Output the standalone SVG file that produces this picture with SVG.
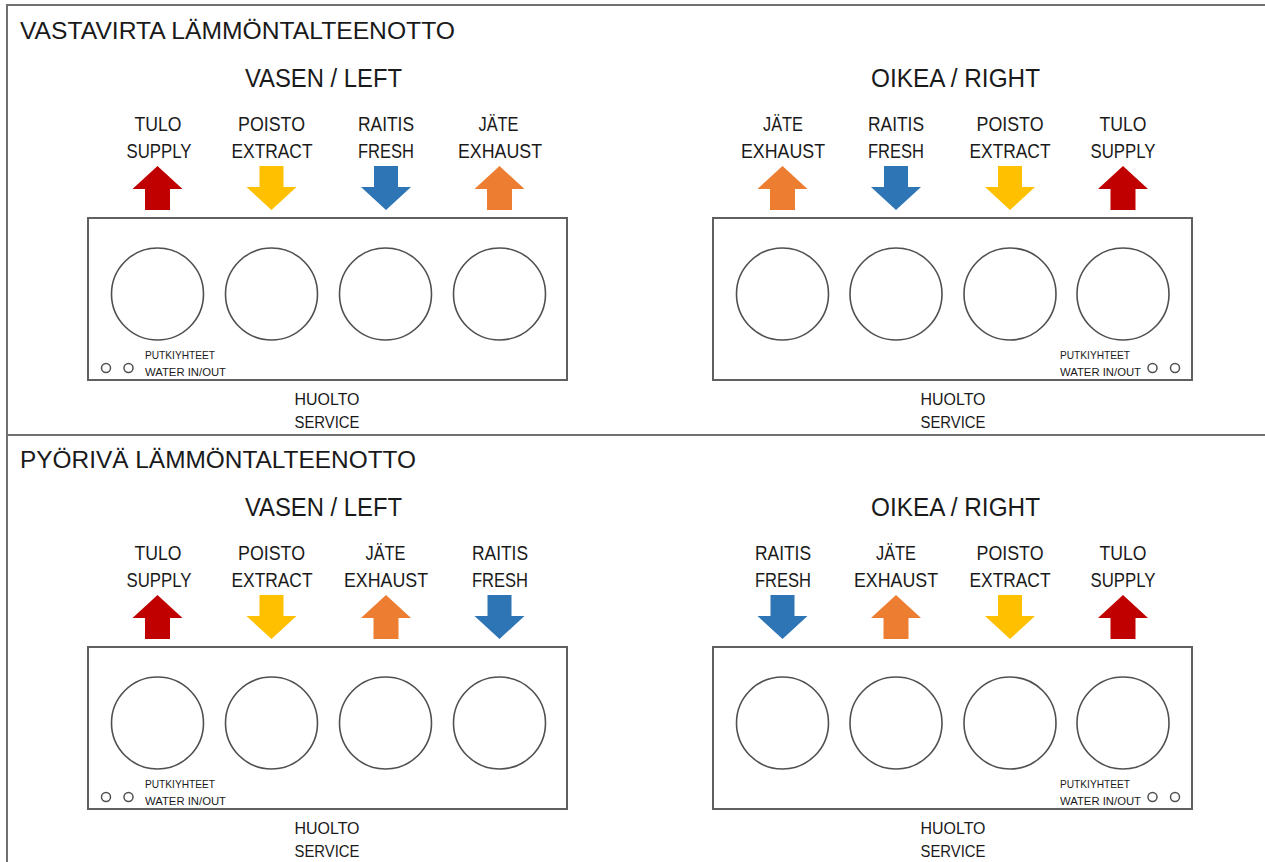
<svg xmlns="http://www.w3.org/2000/svg" xmlns:xlink="http://www.w3.org/1999/xlink" width="1265" height="862" viewBox="0 0 1265 862">
<defs>
<style>
text{font-family:"Liberation Sans",Arial,sans-serif;fill:#1a1a1a;}
.title{font-size:23px;}
.side{font-size:25px;text-anchor:middle;}
.lab{font-size:20px;text-anchor:middle;}
.srv{font-size:16px;text-anchor:middle;}
.sm{font-size:11px;}
.frame{fill:none;stroke:#707070;stroke-width:2;}
.box{fill:#fff;stroke:#606060;stroke-width:2;}
.port{fill:#fff;stroke:#505050;stroke-width:1.6;}
.pipe{fill:#fff;stroke:#505050;stroke-width:1.5;}
.red{fill:#C00000;}
.yel{fill:#FFC000;}
.blu{fill:#2E75B6;}
.ora{fill:#ED7D31;}
</style>
<path id="up" d="M0,0 L25,23 L12.5,23 L12.5,44 L-12.5,44 L-12.5,23 L-25,23 Z"/>
<path id="dn" d="M-12,0 L12,0 L12,21 L25,21 L0,44 L-25,21 L-12,21 Z"/>
</defs>
<rect x="0" y="0" width="1265" height="862" fill="#fff"/>
<g id="frame">
<path class="frame" d="M7,862 L7,5 L1265,5"/>
<line class="frame" x1="7" y1="435" x2="1265" y2="435"/>
</g>
<g id="connectors"/>

<!-- SECTION 1 -->
<g id="section1">
<text class="title" x="20" y="39" textLength="435" lengthAdjust="spacingAndGlyphs">VASTAVIRTA LÄMMÖNTALTEENOTTO</text>

<g id="s1-left">
<text class="side" x="323.5" y="87" textLength="157" lengthAdjust="spacingAndGlyphs">VASEN / LEFT</text>
<rect class="box" x="88" y="218" width="479" height="162"/>
<g id="s1-left-supply">
<text class="lab" x="158" y="131" textLength="47" lengthAdjust="spacingAndGlyphs">TULO</text>
<text class="lab" x="159" y="158" textLength="65" lengthAdjust="spacingAndGlyphs">SUPPLY</text>
<use xlink:href="#up" class="red" x="157.5" y="166"/>
<circle class="port" cx="157.5" cy="294" r="46"/>
</g>
<g id="s1-left-extract">
<text class="lab" x="271.5" y="131" textLength="67" lengthAdjust="spacingAndGlyphs">POISTO</text>
<text class="lab" x="272" y="158" textLength="81" lengthAdjust="spacingAndGlyphs">EXTRACT</text>
<use xlink:href="#dn" class="yel" x="271.5" y="166"/>
<circle class="port" cx="271.5" cy="294" r="46"/>
</g>
<g id="s1-left-fresh">
<text class="lab" x="386" y="131" textLength="56" lengthAdjust="spacingAndGlyphs">RAITIS</text>
<text class="lab" x="386" y="158" textLength="56" lengthAdjust="spacingAndGlyphs">FRESH</text>
<use xlink:href="#dn" class="blu" x="386" y="166"/>
<circle class="port" cx="385.5" cy="294" r="46"/>
</g>
<g id="s1-left-exhaust">
<text class="lab" x="498.5" y="131" textLength="40" lengthAdjust="spacingAndGlyphs">JÄTE</text>
<text class="lab" x="500" y="158" textLength="84" lengthAdjust="spacingAndGlyphs">EXHAUST</text>
<use xlink:href="#up" class="ora" x="499.5" y="166"/>
<circle class="port" cx="499.5" cy="294" r="46"/>
</g>
<g id="s1-left-water">
<circle class="pipe" cx="106" cy="368" r="4.5"/>
<circle class="pipe" cx="128.5" cy="368" r="4.5"/>
<text class="sm" x="145" y="359" textLength="70" lengthAdjust="spacingAndGlyphs">PUTKIYHTEET</text>
<text class="sm" x="145" y="375.5" textLength="81" lengthAdjust="spacingAndGlyphs">WATER IN/OUT</text>
</g>
<text class="srv" x="327" y="405" textLength="65" lengthAdjust="spacingAndGlyphs">HUOLTO</text>
<text class="srv" x="327" y="428" textLength="65" lengthAdjust="spacingAndGlyphs">SERVICE</text>
</g>

<g id="s1-right">
<text class="side" x="955.5" y="87" textLength="169" lengthAdjust="spacingAndGlyphs">OIKEA / RIGHT</text>
<rect class="box" x="713" y="218" width="479" height="162"/>
<g id="s1-right-exhaust">
<text class="lab" x="783" y="131" textLength="40" lengthAdjust="spacingAndGlyphs">JÄTE</text>
<text class="lab" x="783" y="158" textLength="84" lengthAdjust="spacingAndGlyphs">EXHAUST</text>
<use xlink:href="#up" class="ora" x="782.5" y="166"/>
<circle class="port" cx="782.5" cy="294" r="46"/>
</g>
<g id="s1-right-fresh">
<text class="lab" x="896" y="131" textLength="56" lengthAdjust="spacingAndGlyphs">RAITIS</text>
<text class="lab" x="896" y="158" textLength="56" lengthAdjust="spacingAndGlyphs">FRESH</text>
<use xlink:href="#dn" class="blu" x="896" y="166"/>
<circle class="port" cx="896" cy="294" r="46"/>
</g>
<g id="s1-right-extract">
<text class="lab" x="1010" y="131" textLength="67" lengthAdjust="spacingAndGlyphs">POISTO</text>
<text class="lab" x="1010" y="158" textLength="81" lengthAdjust="spacingAndGlyphs">EXTRACT</text>
<use xlink:href="#dn" class="yel" x="1010" y="166"/>
<circle class="port" cx="1010" cy="294" r="46"/>
</g>
<g id="s1-right-supply">
<text class="lab" x="1123" y="131" textLength="47" lengthAdjust="spacingAndGlyphs">TULO</text>
<text class="lab" x="1123" y="158" textLength="65" lengthAdjust="spacingAndGlyphs">SUPPLY</text>
<use xlink:href="#up" class="red" x="1123" y="166"/>
<circle class="port" cx="1123" cy="294" r="46"/>
</g>
<g id="s1-right-water">
<text class="sm" x="1060" y="359" textLength="70" lengthAdjust="spacingAndGlyphs">PUTKIYHTEET</text>
<text class="sm" x="1060" y="375.5" textLength="81" lengthAdjust="spacingAndGlyphs">WATER IN/OUT</text>
<circle class="pipe" cx="1152.5" cy="368" r="4.5"/>
<circle class="pipe" cx="1175" cy="368" r="4.5"/>
</g>
<text class="srv" x="953" y="405" textLength="65" lengthAdjust="spacingAndGlyphs">HUOLTO</text>
<text class="srv" x="953" y="428" textLength="65" lengthAdjust="spacingAndGlyphs">SERVICE</text>
</g>
</g>

<!-- SECTION 2 -->
<g id="section2" transform="translate(0,429)">
<text class="title" x="20" y="39" textLength="396" lengthAdjust="spacingAndGlyphs">PYÖRIVÄ LÄMMÖNTALTEENOTTO</text>

<g id="s2-left">
<text class="side" x="323.5" y="87" textLength="157" lengthAdjust="spacingAndGlyphs">VASEN / LEFT</text>
<rect class="box" x="88" y="218" width="479" height="162"/>
<g id="s2-left-supply">
<text class="lab" x="158" y="131" textLength="47" lengthAdjust="spacingAndGlyphs">TULO</text>
<text class="lab" x="159" y="158" textLength="65" lengthAdjust="spacingAndGlyphs">SUPPLY</text>
<use xlink:href="#up" class="red" x="157.5" y="166"/>
<circle class="port" cx="157.5" cy="294" r="46"/>
</g>
<g id="s2-left-extract">
<text class="lab" x="271.5" y="131" textLength="67" lengthAdjust="spacingAndGlyphs">POISTO</text>
<text class="lab" x="272" y="158" textLength="81" lengthAdjust="spacingAndGlyphs">EXTRACT</text>
<use xlink:href="#dn" class="yel" x="271.5" y="166"/>
<circle class="port" cx="271.5" cy="294" r="46"/>
</g>
<g id="s2-left-exhaust">
<text class="lab" x="385.5" y="131" textLength="40" lengthAdjust="spacingAndGlyphs">JÄTE</text>
<text class="lab" x="386" y="158" textLength="84" lengthAdjust="spacingAndGlyphs">EXHAUST</text>
<use xlink:href="#up" class="ora" x="386" y="166"/>
<circle class="port" cx="385.5" cy="294" r="46"/>
</g>
<g id="s2-left-fresh">
<text class="lab" x="500" y="131" textLength="56" lengthAdjust="spacingAndGlyphs">RAITIS</text>
<text class="lab" x="500" y="158" textLength="56" lengthAdjust="spacingAndGlyphs">FRESH</text>
<use xlink:href="#dn" class="blu" x="499.5" y="166"/>
<circle class="port" cx="499.5" cy="294" r="46"/>
</g>
<g id="s2-left-water">
<circle class="pipe" cx="106" cy="368" r="4.5"/>
<circle class="pipe" cx="128.5" cy="368" r="4.5"/>
<text class="sm" x="145" y="359" textLength="70" lengthAdjust="spacingAndGlyphs">PUTKIYHTEET</text>
<text class="sm" x="145" y="375.5" textLength="81" lengthAdjust="spacingAndGlyphs">WATER IN/OUT</text>
</g>
<text class="srv" x="327" y="405" textLength="65" lengthAdjust="spacingAndGlyphs">HUOLTO</text>
<text class="srv" x="327" y="428" textLength="65" lengthAdjust="spacingAndGlyphs">SERVICE</text>
</g>

<g id="s2-right">
<text class="side" x="955.5" y="87" textLength="169" lengthAdjust="spacingAndGlyphs">OIKEA / RIGHT</text>
<rect class="box" x="713" y="218" width="479" height="162"/>
<g id="s2-right-fresh">
<text class="lab" x="783" y="131" textLength="56" lengthAdjust="spacingAndGlyphs">RAITIS</text>
<text class="lab" x="783" y="158" textLength="56" lengthAdjust="spacingAndGlyphs">FRESH</text>
<use xlink:href="#dn" class="blu" x="782.5" y="166"/>
<circle class="port" cx="782.5" cy="294" r="46"/>
</g>
<g id="s2-right-exhaust">
<text class="lab" x="896" y="131" textLength="40" lengthAdjust="spacingAndGlyphs">JÄTE</text>
<text class="lab" x="896" y="158" textLength="84" lengthAdjust="spacingAndGlyphs">EXHAUST</text>
<use xlink:href="#up" class="ora" x="896" y="166"/>
<circle class="port" cx="896" cy="294" r="46"/>
</g>
<g id="s2-right-extract">
<text class="lab" x="1010" y="131" textLength="67" lengthAdjust="spacingAndGlyphs">POISTO</text>
<text class="lab" x="1010" y="158" textLength="81" lengthAdjust="spacingAndGlyphs">EXTRACT</text>
<use xlink:href="#dn" class="yel" x="1010" y="166"/>
<circle class="port" cx="1010" cy="294" r="46"/>
</g>
<g id="s2-right-supply">
<text class="lab" x="1123" y="131" textLength="47" lengthAdjust="spacingAndGlyphs">TULO</text>
<text class="lab" x="1123" y="158" textLength="65" lengthAdjust="spacingAndGlyphs">SUPPLY</text>
<use xlink:href="#up" class="red" x="1123" y="166"/>
<circle class="port" cx="1123" cy="294" r="46"/>
</g>
<g id="s2-right-water">
<text class="sm" x="1060" y="359" textLength="70" lengthAdjust="spacingAndGlyphs">PUTKIYHTEET</text>
<text class="sm" x="1060" y="375.5" textLength="81" lengthAdjust="spacingAndGlyphs">WATER IN/OUT</text>
<circle class="pipe" cx="1152.5" cy="368" r="4.5"/>
<circle class="pipe" cx="1175" cy="368" r="4.5"/>
</g>
<text class="srv" x="953" y="405" textLength="65" lengthAdjust="spacingAndGlyphs">HUOLTO</text>
<text class="srv" x="953" y="428" textLength="65" lengthAdjust="spacingAndGlyphs">SERVICE</text>
</g>
</g>
</svg>
